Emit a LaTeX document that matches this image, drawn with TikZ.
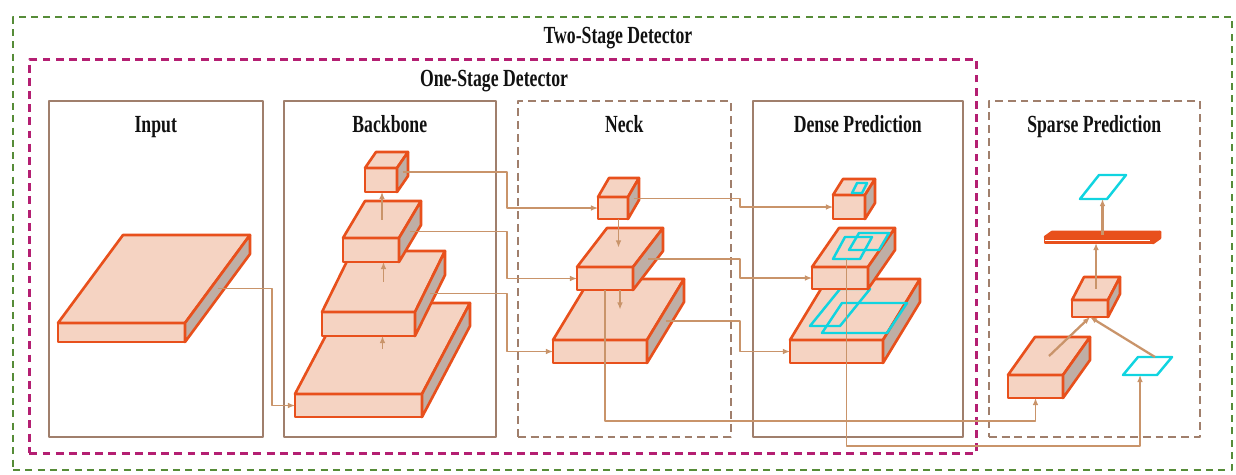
\documentclass[tikz,border=0pt]{standalone}
\usepackage{fontspec}
\setmainfont{Liberation Serif}[FakeStretch=0.72]
\usetikzlibrary{arrows.meta,calc}
\definecolor{ink}{HTML}{111111}
\definecolor{slabline}{HTML}{E8501C}
\definecolor{slabfill}{HTML}{F5D3C2}
\definecolor{slabside}{HTML}{BFAEA5}
\definecolor{linkline}{HTML}{C9946A}
\definecolor{panelline}{HTML}{A07F6C}
\definecolor{oneline}{HTML}{B41F72}
\definecolor{twoline}{HTML}{568C38}
\definecolor{boxcyan}{HTML}{10D4E0}

% feature map: name, front bottom left (x,y), width, height, depth x, depth y
\newcommand{\slab}[8][]{%
  \filldraw[slabface,#1] (#3,#4) rectangle ++(#5,-#6);
  \filldraw[slabface,#1] (#3,#4-#6) -- ++(#5,0) -- ++(#7,-#8) -- ++(-#5,0) -- cycle;
  \filldraw[slabface,fill=slabside,#1] (#3+#5,#4) -- ++(0,-#6) -- ++(#7,-#8) -- ++(0,#6) -- cycle;
  \coordinate (#2-w) at (#3,#4-#6/2);
  \coordinate (#2-e) at (#3+#5+#7/2,#4-#6/2-#8/2);
  \coordinate (#2-s) at (#3+#5/2,#4);
  \coordinate (#2-t) at (#3+#5/2+#7/2,#4-#6-#8/2);
}
% box outline: name, bottom left (x,y), width, depth x, depth y
\newcommand{\roi}[6]{%
  \draw[roibox] (#2,#3) -- ++(#4,0) -- ++(#5,-#6) -- ++(-#4,0) -- cycle;
  \coordinate (#1-s) at (#2+#4/2,#3);
  \coordinate (#1-n) at (#2+#4/2+#5,#3-#6);
}

\begin{document}
\begin{tikzpicture}[
  x=0.02cm, y=-0.02cm,
  font=\fontsize{14}{16}\selectfont\bfseries,
  line join=round,
  slabface/.style={draw=slabline, fill=slabfill, line width=1.5pt},
  link/.style={draw=linkline, line width=0.7pt, -{Latex[length=4pt,width=3.2pt]}},
  boldlink/.style={link, line width=1.3pt},
  roibox/.style={draw=boxcyan, line width=1.4pt},
  panel/.style={draw=panelline, line width=0.9pt, inner sep=0pt, anchor=north west},
  dashpanel/.style={panel, dash pattern=on 4.5pt off 2.8pt},
  onestage/.style={draw=oneline, line width=1.6pt, dash pattern=on 4.5pt off 3pt, inner sep=0pt, anchor=north west},
  twostage/.style={draw=twoline, line width=1.2pt, dash pattern=on 4pt off 3pt, inner sep=0pt, anchor=north west},
  title/.style={text=ink, anchor=base}
]
\useasboundingbox (0,0) rectangle (1236,474);

% detector frames
\node[twostage, minimum width=24.38cm, minimum height=9.06cm] (twobox) at (12,16) {};
\node[title] at (618,43) {Two-Stage Detector};
\node[onestage, minimum width=18.94cm, minimum height=7.88cm] (onebox) at (28,58) {};
\node[title] at (494,86) {One-Stage Detector};

% panels
\node[panel, minimum width=4.28cm, minimum height=6.72cm] (inputbox) at (48,100) {};
\node[panel, minimum width=4.24cm, minimum height=6.72cm] (backbonebox) at (283,100) {};
\node[dashpanel, minimum width=4.26cm, minimum height=6.72cm] (neckbox) at (517,100) {};
\node[panel, minimum width=4.2cm, minimum height=6.72cm] (densebox) at (752,100) {};
\node[dashpanel, minimum width=4.22cm, minimum height=6.72cm] (sparsebox) at (988,100) {};
\node[title] at ($(inputbox.north)+(0,32)$) {Input};
\node[title] at ($(backbonebox.north)+(0,32)$) {Backbone};
\node[title] at ($(neckbox.north)+(0,32)$) {Neck};
\node[title] at ($(densebox.north)+(0,32)$) {Dense Prediction};
\node[title] at ($(sparsebox.north)+(0,32)$) {Sparse Prediction};

% input
\slab{in}{58}{342}{127}{19}{65}{88}

% backbone
\slab{bb2}{295}{417}{127}{23}{48}{91}
\slab{bb3}{322}{336}{93}{24}{30}{61}
\slab{bb4}{343}{262}{56}{24}{22}{37}
\slab{bb5}{365}{192}{32}{24}{11}{16}
\draw[link] (bb2-t) -- (bb2-t |- bb3-s);
\draw[link] (bb3-t) -- (bb3-t |- bb4-s);
\draw[link] (bb4-t) -- (bb4-t |- bb5-s);

% neck
\slab{nk3}{553}{363}{94}{23}{37}{61}
\slab{nk4}{577}{290}{56}{23}{30}{39}
\slab{nk5}{598}{219}{30}{22}{11}{19}
\draw[link] (nk5-t |- nk5-s) -- (nk5-t |- nk4-t);
\draw[link] (nk4-t |- nk4-s) -- (nk4-t |- nk3-t);

% dense prediction
\slab{dp3}{790}{363}{93}{23}{37}{61}
\roi{dpd}{810}{326}{30}{30}{37}
\roi{dpe}{822}{333}{65}{20}{30}
\slab{dp4}{812}{289}{56}{22}{27}{39}
\roi{dpa}{833}{259}{27}{12}{22}
\roi{dpb}{849}{250}{30}{10}{17}
\slab{dp5}{833}{219}{32}{24}{10}{16}
\roi{dpc}{852}{193}{10}{5}{10}

% sparse prediction
\slab{sproi}{1008}{398}{55}{23}{27}{38}
\slab{spfc}{1072}{317}{36}{17}{12}{23}
\slab[fill=slabline]{spbar}{1045}{243}{108}{6}{7}{5}
\draw[white, line width=0.5pt] (spbar-w) -- ++(105,0);
\roi{sptop}{1080}{199}{27}{19}{24}
\roi{splow}{1123}{375}{34}{15}{18}
\draw[boldlink] (sproi-t) -- (spfc-s);
\draw[boldlink] (splow-n) -- (spfc-s);
\draw[boldlink] (spfc-t) -- (spfc-t |- spbar-s);
\draw[boldlink] (spbar-t) -- (spbar-t |- sptop-s);

% connections
\coordinate (inbus) at (272,0);
\coordinate (bbbus) at (507,0);
\coordinate (nkbus) at (740,0);
\coordinate (midbus) at (0,421);
\coordinate (lowbus) at (0,446);
\draw[link] (in-e) -| (inbus |- bb2-w) -- (bb2-w);
\draw[link] (bb5-e) -| (bbbus |- nk5-w) -- (nk5-w);
\draw[link] (bb4-e) -| (bbbus |- nk4-w) -- (nk4-w);
\draw[link] (bb3-e) -| (bbbus |- nk3-w) -- (nk3-w);
\draw[link] (nk5-e) -| (nkbus |- dp5-w) -- (dp5-w);
\draw[link] (nk4-e) -| (nkbus |- dp4-w) -- (dp4-w);
\draw[link] (nk3-e) -| (nkbus |- dp3-w) -- (dp3-w);
\draw[link] (nk4-s) |- (midbus -| sproi-s) -- (sproi-s);
\draw[link] (dpa-s) |- (lowbus -| splow-s) -- (splow-s);

\end{tikzpicture}
\end{document}
